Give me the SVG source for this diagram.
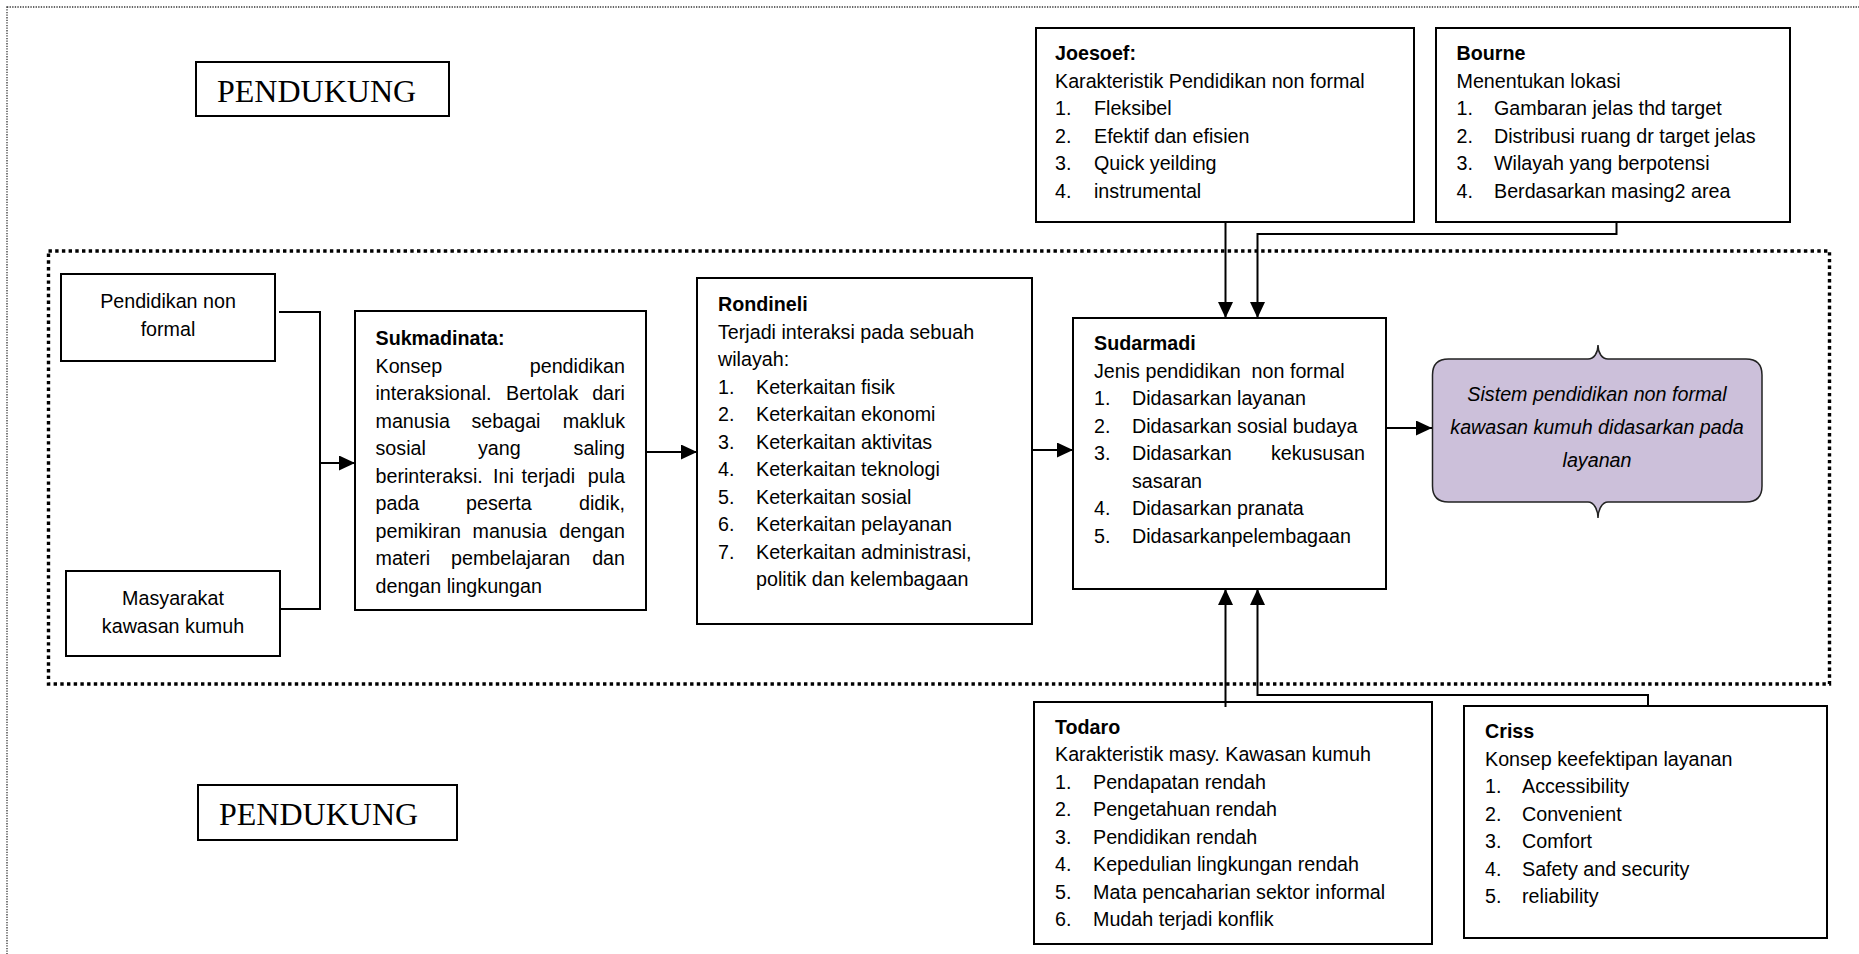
<svg xmlns="http://www.w3.org/2000/svg" width="1859" height="954" viewBox="0 0 1859 954">
<defs>
<marker id="arr" markerUnits="userSpaceOnUse" markerWidth="16" markerHeight="15" viewBox="0 0 16 15" refX="16" refY="7.5" orient="auto"><path d="M0,0 L16,7.5 L0,15 Z" fill="#000"/></marker>
</defs>
<style>
.box{fill:#fff;stroke:#000;stroke-width:2}
.t{font-family:"Liberation Sans",Arial,sans-serif;font-size:19.7px;fill:#000}
.b{font-weight:bold}
.e{text-anchor:end}
.m{text-anchor:middle}
.tnr{font-family:"Liberation Serif","Times New Roman",serif;font-size:32px;fill:#000}
.conn{fill:none;stroke:#000;stroke-width:2}
.arrow{marker-end:url(#arr)}
</style>
<rect id="outer-border" x="7" y="7" width="1880" height="1000" fill="none" stroke="#333" stroke-width="1.3" stroke-dasharray="1.3 1.3"/>
<rect id="inner-border" x="48.5" y="251" width="1781" height="433" fill="none" stroke="#000" stroke-width="3.4" stroke-dasharray="3.4 3.3"/>

<g id="pendukung-top">
<rect class="box" x="196" y="62" width="253" height="54"/>
<text class="tnr" x="217" y="102">PENDUKUNG</text>
</g>
<g id="pendukung-bottom">
<rect class="box" x="198" y="785" width="259" height="55"/>
<text class="tnr" x="219" y="825">PENDUKUNG</text>
</g>

<g id="pendidikan">
<rect class="box" x="61" y="274" width="214" height="87"/>
<text class="t m" x="168" y="308">Pendidikan non</text>
<text class="t m" x="168" y="336">formal</text>
</g>
<g id="masyarakat">
<rect class="box" x="66" y="571" width="214" height="85"/>
<text class="t m" x="173" y="605">Masyarakat</text>
<text class="t m" x="173" y="633">kawasan kumuh</text>
</g>

<g id="sukmadinata">
<rect class="box" x="355" y="311" width="291" height="299"/>
<text class="t b" x="375.5" y="345">Sukmadinata:</text>
<text class="t" x="375.5" y="372.5">Konsep</text><text class="t e" x="625" y="372.5">pendidikan</text>
<text class="t" x="375.5" y="400">interaksional.</text><text class="t" x="506" y="400">Bertolak</text><text class="t e" x="625" y="400">dari</text>
<text class="t" x="375.5" y="427.5">manusia</text><text class="t" x="471.5" y="427.5">sebagai</text><text class="t e" x="625" y="427.5">makluk</text>
<text class="t" x="375.5" y="455">sosial</text><text class="t" x="478" y="455">yang</text><text class="t e" x="625" y="455">saling</text>
<text class="t" x="375.5" y="482.5">berinteraksi.</text><text class="t" x="493" y="482.5">Ini</text><text class="t" x="521.5" y="482.5">terjadi</text><text class="t e" x="625" y="482.5">pula</text>
<text class="t" x="375.5" y="510">pada</text><text class="t" x="466" y="510">peserta</text><text class="t e" x="625" y="510">didik,</text>
<text class="t" x="375.5" y="537.5">pemikiran</text><text class="t" x="472.5" y="537.5">manusia</text><text class="t e" x="625" y="537.5">dengan</text>
<text class="t" x="375.5" y="565">materi</text><text class="t" x="451" y="565">pembelajaran</text><text class="t e" x="625" y="565">dan</text>
<text class="t" x="375.5" y="592.5">dengan lingkungan</text>
</g>

<g id="rondineli">
<rect class="box" x="697" y="278" width="335" height="346"/>
<text class="t b" x="718" y="311">Rondineli</text>
<text class="t" x="718" y="338.5">Terjadi interaksi pada sebuah</text>
<text class="t" x="718" y="366">wilayah:</text>
<text class="t" x="718" y="393.5">1.</text><text class="t" x="756" y="393.5">Keterkaitan fisik</text>
<text class="t" x="718" y="421">2.</text><text class="t" x="756" y="421">Keterkaitan ekonomi</text>
<text class="t" x="718" y="448.5">3.</text><text class="t" x="756" y="448.5">Keterkaitan aktivitas</text>
<text class="t" x="718" y="476">4.</text><text class="t" x="756" y="476">Keterkaitan teknologi</text>
<text class="t" x="718" y="503.5">5.</text><text class="t" x="756" y="503.5">Keterkaitan sosial</text>
<text class="t" x="718" y="531">6.</text><text class="t" x="756" y="531">Keterkaitan pelayanan</text>
<text class="t" x="718" y="558.5">7.</text><text class="t" x="756" y="558.5">Keterkaitan administrasi,</text>
<text class="t" x="756" y="586">politik dan kelembagaan</text>
</g>

<g id="sudarmadi">
<rect class="box" x="1073" y="318" width="313" height="271"/>
<text class="t b" x="1094" y="350">Sudarmadi</text>
<text class="t" x="1094" y="377.5" xml:space="preserve">Jenis pendidikan  non formal</text>
<text class="t" x="1094" y="405">1.</text><text class="t" x="1132" y="405">Didasarkan layanan</text>
<text class="t" x="1094" y="432.5">2.</text><text class="t" x="1132" y="432.5">Didasarkan sosial budaya</text>
<text class="t" x="1094" y="460">3.</text><text class="t" x="1132" y="460">Didasarkan</text><text class="t e" x="1365" y="460">kekususan</text>
<text class="t" x="1132" y="487.5">sasaran</text>
<text class="t" x="1094" y="515">4.</text><text class="t" x="1132" y="515">Didasarkan pranata</text>
<text class="t" x="1094" y="542.5">5.</text><text class="t" x="1132" y="542.5">Didasarkanpelembagaan</text>
</g>

<g id="hasil">
<path d="M1432.5,375 Q1432.5,359 1448.5,359 H1588 C1594,359 1598,353 1598,345 C1598,353 1602,359 1608,359 H1746 Q1762,359 1762,375 V486 Q1762,502 1746,502 H1608 C1602,502 1598,510 1598,518 C1598,510 1594,502 1588,502 H1448.5 Q1432.5,502 1432.5,486 Z" fill="#ccc0da" stroke="#222" stroke-width="1.5"/>
<text class="t m" font-style="italic" x="1597" y="401">Sistem pendidikan non formal</text>
<text class="t m" font-style="italic" x="1597" y="434">kawasan kumuh didasarkan pada</text>
<text class="t m" font-style="italic" x="1597" y="467">layanan</text>
</g>

<g id="joesoef">
<rect class="box" x="1036" y="28" width="378" height="194"/>
<text class="t b" x="1055" y="60">Joesoef:</text>
<text class="t" x="1055" y="87.5">Karakteristik Pendidikan non formal</text>
<text class="t" x="1055" y="115">1.</text><text class="t" x="1094" y="115">Fleksibel</text>
<text class="t" x="1055" y="142.5">2.</text><text class="t" x="1094" y="142.5">Efektif dan efisien</text>
<text class="t" x="1055" y="170">3.</text><text class="t" x="1094" y="170">Quick yeilding</text>
<text class="t" x="1055" y="197.5">4.</text><text class="t" x="1094" y="197.5">instrumental</text>
</g>

<g id="bourne">
<rect class="box" x="1436" y="28" width="354" height="194"/>
<text class="t b" x="1456.5" y="60">Bourne</text>
<text class="t" x="1456.5" y="87.5">Menentukan lokasi</text>
<text class="t" x="1456.5" y="115">1.</text><text class="t" x="1494" y="115">Gambaran jelas thd target</text>
<text class="t" x="1456.5" y="142.5">2.</text><text class="t" x="1494" y="142.5">Distribusi ruang dr target jelas</text>
<text class="t" x="1456.5" y="170">3.</text><text class="t" x="1494" y="170">Wilayah yang berpotensi</text>
<text class="t" x="1456.5" y="197.5">4.</text><text class="t" x="1494" y="197.5">Berdasarkan masing2 area</text>
</g>

<g id="todaro">
<rect class="box" x="1034" y="702" width="398" height="242"/>
<text class="t b" x="1055" y="733.5">Todaro</text>
<text class="t" x="1055" y="761">Karakteristik masy. Kawasan kumuh</text>
<text class="t" x="1055" y="788.5">1.</text><text class="t" x="1093" y="788.5">Pendapatan rendah</text>
<text class="t" x="1055" y="816">2.</text><text class="t" x="1093" y="816">Pengetahuan rendah</text>
<text class="t" x="1055" y="843.5">3.</text><text class="t" x="1093" y="843.5">Pendidikan rendah</text>
<text class="t" x="1055" y="871">4.</text><text class="t" x="1093" y="871">Kepedulian lingkungan rendah</text>
<text class="t" x="1055" y="898.5">5.</text><text class="t" x="1093" y="898.5">Mata pencaharian sektor informal</text>
<text class="t" x="1055" y="926">6.</text><text class="t" x="1093" y="926">Mudah terjadi konflik</text>
</g>

<g id="criss">
<rect class="box" x="1464" y="706" width="363" height="232"/>
<text class="t b" x="1485" y="738">Criss</text>
<text class="t" x="1485" y="765.5">Konsep keefektipan layanan</text>
<text class="t" x="1485" y="793">1.</text><text class="t" x="1522" y="793">Accessibility</text>
<text class="t" x="1485" y="820.5">2.</text><text class="t" x="1522" y="820.5">Convenient</text>
<text class="t" x="1485" y="848">3.</text><text class="t" x="1522" y="848">Comfort</text>
<text class="t" x="1485" y="875.5">4.</text><text class="t" x="1522" y="875.5">Safety and security</text>
<text class="t" x="1485" y="903">5.</text><text class="t" x="1522" y="903">reliability</text>
</g>

<g id="connectors">
<path class="conn" d="M279,312 H320 V609 H280"/>
<path class="conn arrow" d="M320,463 H355"/>
<path class="conn arrow" d="M646,452 H697"/>
<path class="conn arrow" d="M1032,450 H1073"/>
<path class="conn arrow" d="M1386,428 H1432"/>
<path class="conn arrow" d="M1225.5,222 V318"/>
<path class="conn arrow" d="M1616.5,222 V234 H1257.5 V318"/>
<path class="conn arrow" d="M1225.5,707 V589"/>
<path class="conn arrow" d="M1648,706 V695 H1257.5 V589"/>
</g>
</svg>
